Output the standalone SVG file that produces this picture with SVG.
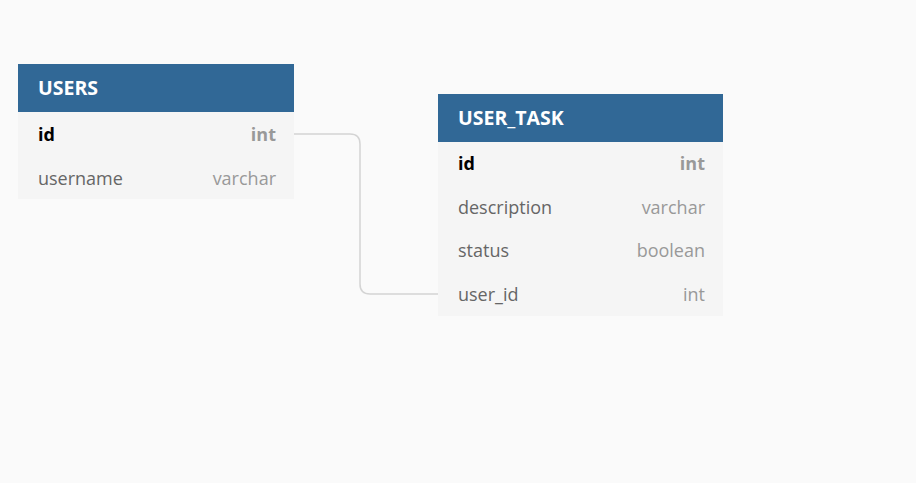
<svg xmlns="http://www.w3.org/2000/svg" width="916" height="483" viewBox="0 0 916 483">
<style>
.hdr{fill:#316896}
.body{fill:#f5f5f5}
.title{font-family:"Open Sans",sans-serif;font-size:19.5px;font-weight:bold;fill:#ffffff}
.f{font-family:"Open Sans",sans-serif;font-size:18px;fill:#666666}
.fk{font-family:"Open Sans",sans-serif;font-size:18px;font-weight:bold;fill:#000000}
.t{font-family:"Open Sans",sans-serif;font-size:18px;fill:#999999;text-anchor:end}
.tk{font-family:"Open Sans",sans-serif;font-size:18px;font-weight:bold;fill:#999999;text-anchor:end}
.conn{fill:none;stroke:#d4d4d4;stroke-width:1.5}
</style>
<rect width="916" height="483" fill="#fafafa"/>
<g id="connectors">
<path class="conn" d="M294,134 H350 Q360,134 360,144 V284 Q360,294 370,294 H438"/>
</g>
<g id="users">
<rect class="body" x="18" y="64" width="276" height="135"/>
<rect class="hdr" x="18" y="64" width="276" height="48"/>
<text class="title" x="38" y="95">USERS</text>
<text class="fk" x="38" y="141">id</text>
<text class="tk" x="276" y="141">int</text>
<text class="f" x="38" y="185">username</text>
<text class="t" x="276" y="185">varchar</text>
</g>
<g id="user_task">
<rect class="body" x="438" y="94" width="285" height="222"/>
<rect class="hdr" x="438" y="94" width="285" height="48"/>
<text class="title" x="458" y="125">USER_TASK</text>
<text class="fk" x="458" y="170">id</text>
<text class="tk" x="705" y="170">int</text>
<text class="f" x="458" y="214">description</text>
<text class="t" x="705" y="214">varchar</text>
<text class="f" x="458" y="257">status</text>
<text class="t" x="705" y="257">boolean</text>
<text class="f" x="458" y="301">user_id</text>
<text class="t" x="705" y="301">int</text>
</g>
</svg>
